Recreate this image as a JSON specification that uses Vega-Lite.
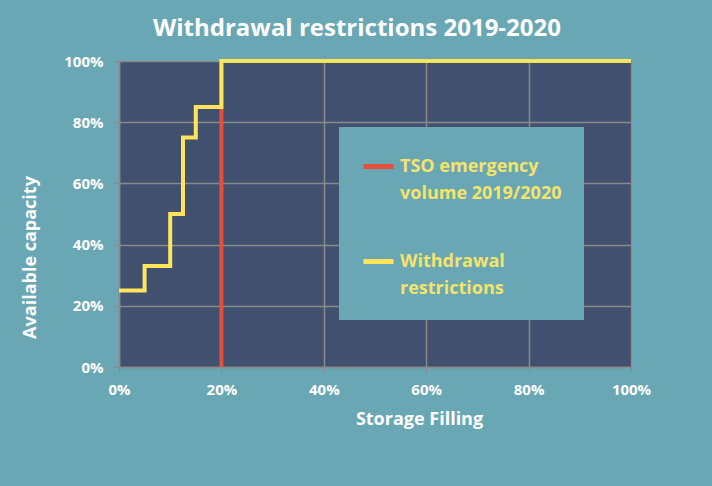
{
  "$schema": "https://vega.github.io/schema/vega-lite/v6.json",
  "width": 512,
  "height": 306,
  "autosize": {"type": "none"},
  "padding": {"left": 119, "top": 61, "right": 81, "bottom": 119},
  "background": "#6AA7B5",
  "title": {
    "text": "Withdrawal restrictions 2019-2020",
    "anchor": "middle",
    "dx": -18,
    "offset": 12,
    "font": "Open Sans",
    "fontSize": 24,
    "fontWeight": "bold",
    "color": "#FFFFFF"
  },
  "config": {
    "view": {"fill": "#40506E", "stroke": null},
    "font": "Open Sans",
    "style": {"guide-label": {"lineHeight": 27}}
  },
  "datasets": {
    "steps": [
      {"fill": 0, "cap": 0.25, "series": "Withdrawal restrictions"},
      {"fill": 0.05, "cap": 0.33, "series": "Withdrawal restrictions"},
      {"fill": 0.10, "cap": 0.50, "series": "Withdrawal restrictions"},
      {"fill": 0.125, "cap": 0.75, "series": "Withdrawal restrictions"},
      {"fill": 0.15, "cap": 0.85, "series": "Withdrawal restrictions"},
      {"fill": 0.20, "cap": 1.0, "series": "Withdrawal restrictions"},
      {"fill": 1.0, "cap": 1.0, "series": "Withdrawal restrictions"}
    ],
    "tso": [
      {"fill": 0.20, "cap": 0, "series": "TSO emergency volume 2019/2020"},
      {"fill": 0.20, "cap": 1.0, "series": "TSO emergency volume 2019/2020"}
    ]
  },
  "encoding": {
    "x": {
      "field": "fill",
      "type": "quantitative",
      "scale": {"domain": [0, 1], "nice": false},
      "axis": {
        "title": "Storage Filling",
        "format": ".0%",
        "values": [0, 0.2, 0.4, 0.6, 0.8, 1],
        "labelFlush": false,
        "grid": true,
        "gridColor": "#8A8A8A",
        "gridWidth": 1.5,
        "domainColor": "#8A8A8A",
        "domainWidth": 1.5,
        "tickColor": "#8A8A8A",
        "tickSize": 5,
        "labelColor": "#FFFFFF",
        "labelFont": "Open Sans",
        "labelFontSize": 15,
        "labelFontWeight": "bold",
        "labelPadding": 10,
        "titleColor": "#FFFFFF",
        "titleFont": "Open Sans",
        "titleFontSize": 18,
        "titleFontWeight": "bold",
        "titleX": 300,
        "titleY": 52,
        "titleBaseline": "middle"
      }
    },
    "y": {
      "field": "cap",
      "type": "quantitative",
      "scale": {"domain": [0, 1], "nice": false},
      "axis": {
        "title": "Available capacity",
        "format": ".0%",
        "values": [0, 0.2, 0.4, 0.6, 0.8, 1],
        "grid": true,
        "gridColor": "#8A8A8A",
        "gridWidth": 1.5,
        "domainColor": "#8A8A8A",
        "domainWidth": 1.5,
        "tickColor": "#8A8A8A",
        "tickSize": 5,
        "labelColor": "#FFFFFF",
        "labelFont": "Open Sans",
        "labelFontSize": 15,
        "labelFontWeight": "bold",
        "labelPadding": 11,
        "titleColor": "#FFFFFF",
        "titleFont": "Open Sans",
        "titleFontSize": 18,
        "titleFontWeight": "bold",
        "titleX": -89,
        "titleY": 196,
        "titleBaseline": "middle",
        "titleAngle": -90
      }
    },
    "color": {
      "field": "series",
      "type": "nominal",
      "scale": {
        "domain": ["TSO emergency volume 2019/2020", "Withdrawal restrictions"],
        "range": ["#E4513A", "#FFE45C"]
      },
      "legend": {
        "title": null,
        "orient": "none",
        "legendX": 220,
        "legendY": 66,
        "fillColor": "#6AA7B5",
        "padding": 22,
        "symbolType": "stroke",
        "symbolSize": 900,
        "symbolStrokeWidth": 5,
        "labelColor": "#F4E46A",
        "labelFont": "Open Sans",
        "labelFontSize": 18,
        "labelFontWeight": "bold",
        "labelLimit": 300,
        "labelOffset": 4,
        "rowPadding": 41,
        "labelExpr": "datum.label == 'Withdrawal restrictions' ? ['Withdrawal', 'restrictions'] : ['TSO emergency', 'volume 2019/2020']"
      }
    }
  },
  "layer": [
    {
      "data": {"name": "tso"},
      "mark": {"type": "line", "strokeWidth": 4, "clip": false}
    },
    {
      "data": {"name": "steps"},
      "mark": {"type": "line", "interpolate": "step-after", "strokeWidth": 4, "clip": false}
    }
  ]
}
